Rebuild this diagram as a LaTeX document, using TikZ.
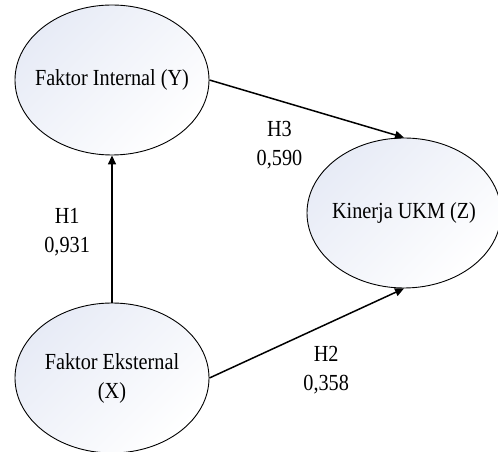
\documentclass[tikz,border=0pt]{standalone}
\usepackage{fontspec}
\setmainfont{Liberation Serif}[FakeStretch=0.88]
\usepackage{tikz}
\usetikzlibrary{positioning}
\usetikzlibrary{arrows.meta, shapes.geometric}
\definecolor{latfill}{RGB}{231,235,246}

\begin{document}
\begin{tikzpicture}[x=1pt, y=1pt,
  latent/.style = {draw, ellipse, line width=0.9pt, minimum width=194pt, minimum height=150pt, inner xsep=-18pt, inner ysep=0pt, align=center, shading=axis, top color=latfill, bottom color=white, shading angle=45},
  conn/.style = {line width=1.5pt, -{Triangle[length=9pt, width=8pt]}},
  lab/.style = {align=center},
  font=\fontsize{23}{29}\selectfont]
\useasboundingbox (0,0) rectangle (498,452);
\node[latent] (Y) at (112,372) {Faktor Internal (Y)};
\node[latent] (X) at (112,74) {Faktor Eksternal\\(X)};
\node[latent] (Z) at (404,239) {Kinerja UKM (Z)};
\path (X.north) edge [conn] node [lab, pos=0.48, left=18pt] {H1\\0,931} (Y.south);
\path (X.east) edge [conn] node [lab, pos=0.6, below=18pt] {H2\\0,358} (Z.south);
\path (Y.east) edge [conn] node [lab, pos=0.36, below=16pt] {H3\\0,590} (Z.north);
\end{tikzpicture}
\end{document}
